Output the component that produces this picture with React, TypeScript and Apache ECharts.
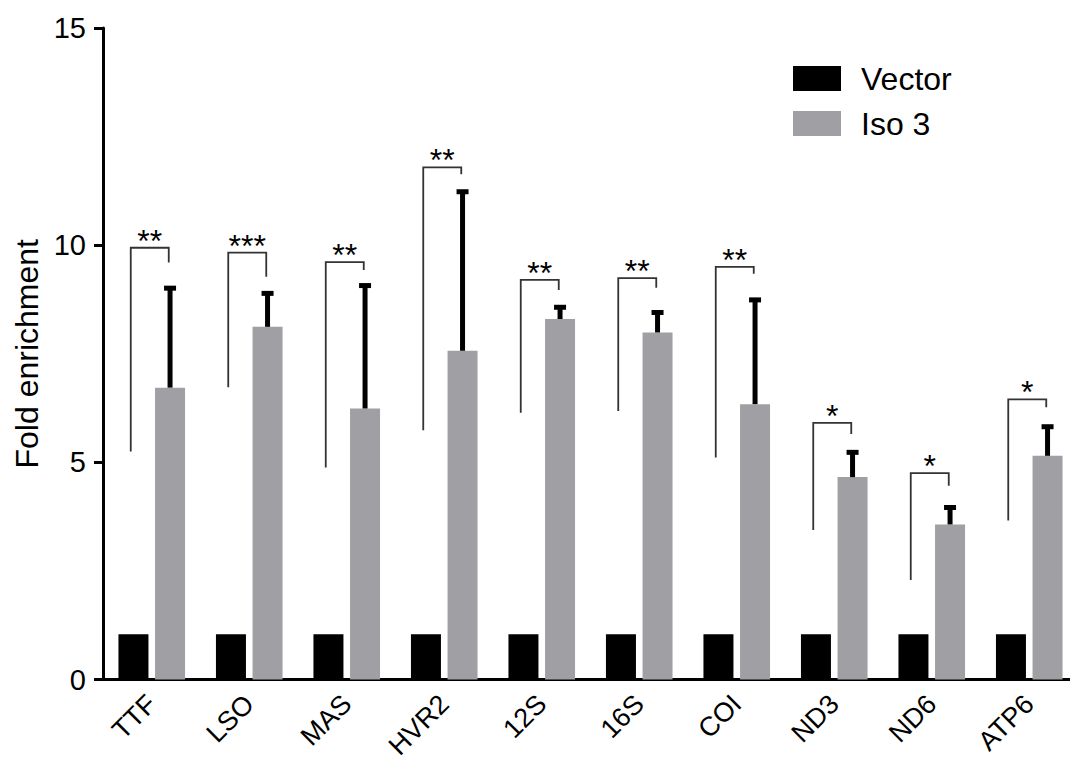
import React, { useEffect, useRef } from "react";
import * as echarts from "echarts";

const categories = ["TTF", "LSO", "MAS", "HVR2", "12S", "16S", "COI", "ND3", "ND6", "ATP6"];
const vectorValues = [1.04, 1.04, 1.04, 1.04, 1.04, 1.04, 1.04, 1.04, 1.04, 1.04];
const iso3Values = [6.72, 8.12, 6.24, 7.57, 8.3, 7.99, 6.34, 4.66, 3.57, 5.15];
const iso3ErrTop = [9.01, 8.89, 9.07, 11.23, 8.57, 8.45, 8.74, 5.23, 3.96, 5.82];
const bracketTop = [9.94, 9.83, 9.61, 11.79, 9.2, 9.24, 9.5, 5.91, 4.75, 6.45];
const bracketLeftBottom = [5.25, 6.73, 4.88, 5.74, 6.14, 6.18, 5.11, 3.44, 2.29, 3.66];
const bracketRightBottom = [9.6, 9.27, 9.43, 11.63, 8.97, 9.02, 9.34, 5.65, 4.46, 6.27];
const stars = ["**", "***", "**", "**", "**", "**", "**", "*", "*", "*"];
const yTicks = [0, 5, 10, 15];

const FONT = "'Liberation Sans', Arial, Helvetica, sans-serif";
const BAR_W = 30;
const GAP_FRAC = 0.22;
const GRAY_OFF = (BAR_W + BAR_W * GAP_FRAC) / 2;
const BR_LEFT = -21;
const BR_RIGHT = 17;

export default function App() {
  const ref = useRef<HTMLDivElement>(null);
  useEffect(() => {
    if (!ref.current) return;
    const chart = echarts.init(ref.current, undefined, { renderer: "svg" });
    const option: any = {
      animation: false,
      backgroundColor: "#ffffff",
      textStyle: { fontFamily: FONT },
      grid: { left: 103, top: 28, width: 975, bottom: 84.5, containLabel: false, outerBoundsMode: "none" },
      legend: {
        orient: "vertical",
        left: 793,
        top: 62.5,
        itemWidth: 48,
        itemHeight: 25,
        itemGap: 13,
        padding: 0,
        icon: "rect",
        data: ["Vector", "Iso 3"],
        textStyle: { fontSize: 32, color: "#000", fontFamily: FONT, padding: [0, 0, 0, 15] },
      },
      xAxis: {
        type: "category",
        data: categories,
        axisLine: { lineStyle: { color: "#000", width: 3 } },
        axisTick: { alignWithLabel: true, length: 10, lineStyle: { color: "#000", width: 3 } },
        axisLabel: { rotate: 45, fontSize: 27, color: "#000", margin: 20, fontFamily: FONT, interval: 0 },
        splitLine: { show: false },
      },
      yAxis: {
        type: "value",
        min: yTicks[0],
        max: yTicks[yTicks.length - 1],
        interval: 5,
        name: "Fold enrichment",
        nameLocation: "middle",
        nameGap: 60,
        nameTextStyle: { fontSize: 32, color: "#000", fontFamily: FONT },
        axisLine: { show: true, lineStyle: { color: "#000", width: 3 } },
        axisTick: { show: true, length: 9, lineStyle: { color: "#000", width: 3 } },
        axisLabel: { fontSize: 29, color: "#000", margin: 17, fontFamily: FONT },
        splitLine: { show: false },
      },
      series: [
        {
          name: "Vector",
          type: "bar",
          data: vectorValues,
          barWidth: BAR_W,
          barGap: GAP_FRAC * 100 + "%",
          itemStyle: { color: "#000000" },
        },
        {
          name: "Iso 3",
          type: "bar",
          data: iso3Values,
          barWidth: BAR_W,
          barGap: GAP_FRAC * 100 + "%",
          itemStyle: { color: "#a09fa4" },
        },
        {
          name: "err",
          type: "custom",
          z: 5,
          encode: { x: 0, y: [1, 2] },
          data: iso3Values.map((v, i) => [i, v, iso3ErrTop[i]]),
          renderItem: (params: any, api: any) => {
            const i = api.value(0);
            const base = api.coord([i, api.value(1)]);
            const top = api.coord([i, api.value(2)]);
            const x = base[0] + GRAY_OFF;
            return {
              type: "group",
              children: [
                { type: "line", shape: { x1: x, y1: base[1], x2: x, y2: top[1] }, style: { stroke: "#000", lineWidth: 5 } },
                { type: "rect", shape: { x: x - 6, y: top[1] - 2.5, width: 12, height: 5 }, style: { fill: "#000" } },
              ],
            };
          },
        },
        {
          name: "brackets",
          type: "custom",
          z: 6,
          encode: { x: 0, y: [1, 2, 3] },
          data: categories.map((c, i) => [i, bracketTop[i], bracketLeftBottom[i], bracketRightBottom[i]]),
          renderItem: (params: any, api: any) => {
            const i = api.value(0);
            const t = api.coord([i, api.value(1)]);
            const lb = api.coord([i, api.value(2)]);
            const rb = api.coord([i, api.value(3)]);
            const xl = t[0] + BR_LEFT;
            const xr = t[0] + BR_RIGHT;
            return {
              type: "group",
              children: [
                {
                  type: "polyline",
                  shape: { points: [[xl, lb[1]], [xl, t[1]], [xr, t[1]], [xr, rb[1]]] },
                  style: { stroke: "#333", lineWidth: 1.8, fill: null },
                },
                {
                  type: "text",
                  x: (xl + xr) / 2,
                  y: t[1] - 7,
                  style: {
                    text: stars[params.dataIndex],
                    fontSize: 32,
                    fontFamily: FONT,
                    fill: "#000",
                    align: "center",
                    verticalAlign: "middle",
                  },
                },
              ],
            };
          },
        },
      ],
    };
    chart.setOption(option);
    return () => chart.dispose();
  }, []);
  return (
    <div
      ref={ref}
      style={{ position: "fixed", left: 0, top: 0, width: 1070, height: 764, background: "#fff" }}
    />
  );
}
